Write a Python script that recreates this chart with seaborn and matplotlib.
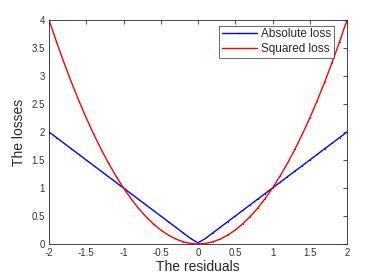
import matplotlib
matplotlib.use("Agg")
import matplotlib.pyplot as plt
import seaborn as sns
import pandas as pd

residuals = [-2.0, -1.9, -1.8, -1.7, -1.6, -1.5, -1.4, -1.3, -1.2, -1.1, -1.0,
             -0.9, -0.8, -0.7, -0.6, -0.5, -0.4, -0.3, -0.2, -0.1, 0.0,
             0.1, 0.2, 0.3, 0.4, 0.5, 0.6, 0.7, 0.8, 0.9, 1.0,
             1.1, 1.2, 1.3, 1.4, 1.5, 1.6, 1.7, 1.8, 1.9, 2.0]
absolute_loss = [2.0, 1.9, 1.8, 1.7, 1.6, 1.5, 1.4, 1.3, 1.2, 1.1, 1.0,
                 0.9, 0.8, 0.7, 0.6, 0.5, 0.4, 0.3, 0.2, 0.1, 0.02,
                 0.1, 0.2, 0.3, 0.4, 0.5, 0.6, 0.7, 0.8, 0.9, 1.0,
                 1.1, 1.2, 1.3, 1.4, 1.5, 1.6, 1.7, 1.8, 1.9, 2.0]
squared_loss = [4.0, 3.61, 3.24, 2.89, 2.56, 2.25, 1.96, 1.69, 1.44, 1.21, 1.0,
                0.81, 0.64, 0.49, 0.36, 0.25, 0.16, 0.09, 0.04, 0.01, 0.0,
                0.01, 0.04, 0.09, 0.16, 0.25, 0.36, 0.49, 0.64, 0.81, 1.0,
                1.21, 1.44, 1.69, 1.96, 2.25, 2.56, 2.89, 3.24, 3.61, 4.0]
series_names = ["Absolute loss", "Squared loss"]
x_ticks = [-2, -1.5, -1, -0.5, 0, 0.5, 1, 1.5, 2]
x_tick_labels = ["-2", "-1.5", "-1", "-0.5", "0", "0.5", "1", "1.5", "2"]
y_ticks = [0, 0.5, 1, 1.5, 2, 2.5, 3, 3.5, 4]
y_tick_labels = ["0", "0.5", "1", "1.5", "2", "2.5", "3", "3.5", "4"]

df = pd.DataFrame({
    "x": residuals * 2,
    "y": absolute_loss + squared_loss,
    "series": [series_names[0]] * len(residuals) + [series_names[1]] * len(residuals),
})

sns.set_style("white")
plt.rcParams['font.family'] = ['Liberation Sans', 'DejaVu Sans']

fig = plt.figure(figsize=(3.83, 2.77), dpi=100)
ax = fig.add_axes([0.128, 0.119, 0.778, 0.809])

sns.lineplot(data=df, x="x", y="y", hue="series",
             palette={series_names[0]: "#0000ff", series_names[1]: "#ff0000"},
             marker=".", markersize=1.8, markeredgewidth=0, linewidth=1.0, ax=ax,
             estimator=None, sort=False)

ax.set_xlim(-2, 2)
ax.set_ylim(0, 4)
ax.set_xticks(x_ticks)
ax.set_xticklabels(x_tick_labels)
ax.set_yticks(y_ticks)
ax.set_yticklabels(y_tick_labels)
ax.tick_params(direction="in", length=3, width=0.6, labelsize=7, colors="#333333",
               top=True, right=True, pad=3)
for s in ax.spines.values():
    s.set_color("#262626")
    s.set_linewidth(0.6)
ax.set_xlabel("The residuals", fontsize=10, color="#262626", labelpad=1)
ax.set_ylabel("The losses", fontsize=10, color="#262626", labelpad=4)

leg = ax.legend(loc="upper right", bbox_to_anchor=(0.955, 0.975), fontsize=8.5,
                frameon=True, fancybox=False, edgecolor="#262626",
                handlelength=3.0, handletextpad=0.3, borderpad=0.25,
                labelspacing=0.2, borderaxespad=0)
leg.get_frame().set_linewidth(0.6)

fig.savefig("out.png", dpi=100)
